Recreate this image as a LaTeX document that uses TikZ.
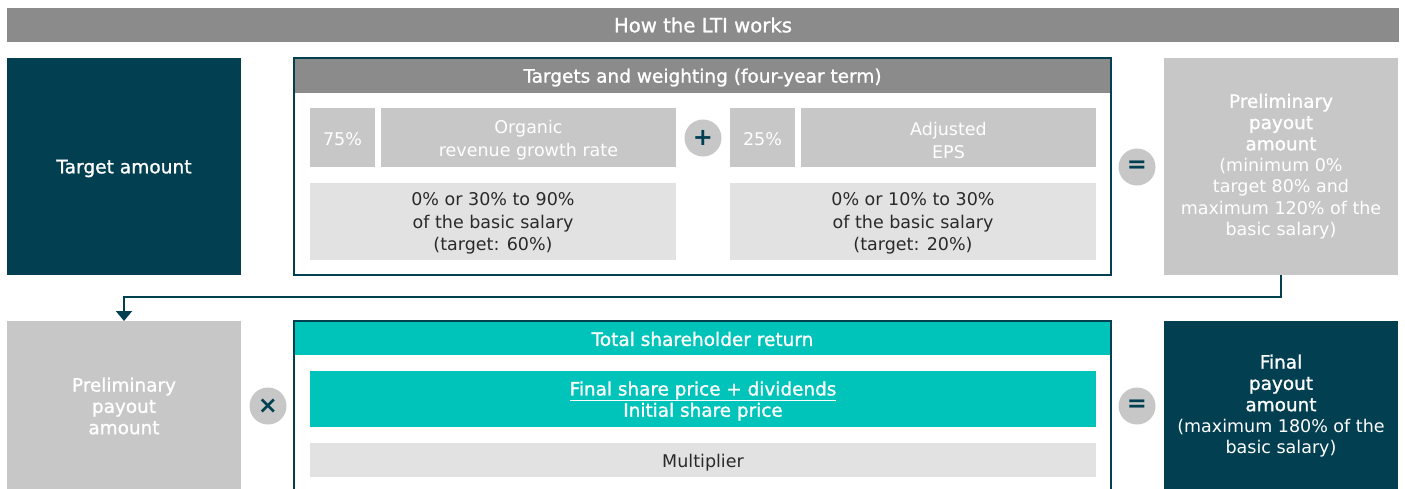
\documentclass[tikz,border=0pt]{standalone}
\usepackage{fontspec}
\setmainfont{DejaVu Sans}
\newfontfamily\medf[FakeBold=1.2]{DejaVu Sans}
\newcommand\medsz{\fontsize{18.4}{21.3}\selectfont\medf}
\newcommand\dn[2]{\raisebox{-#1}[\height][\depth]{#2}}
\usetikzlibrary{arrows.meta}
\definecolor{dark}{HTML}{023F51}
\definecolor{midgray}{HTML}{8A8B8A}
\definecolor{lgray}{HTML}{C6C7C6}
\definecolor{llgray}{HTML}{E1E2E1}
\definecolor{teal}{HTML}{00C4BA}
\definecolor{txt}{HTML}{2A2A2A}
\tikzset{
  base/.style={inner sep=0pt, outer sep=0pt, anchor=north west, align=center,
    font=\fontsize{17.5}{21.3}\selectfont},
  medtxt/.style={font=\medsz},
  hdrtxt/.style={font=\fontsize{18.5}{21.3}\selectfont\medf},
  darkbox/.style={base, fill=dark, text=white},
  graybox/.style={base, fill=lgray, text=white},
  palebox/.style={base, fill=llgray, text=txt},
  framebox/.style={base, fill=white},
  frameline/.style={draw=dark, line width=1.2pt},
  opcirc/.style={circle, fill=lgray, text=dark, minimum size=37pt, inner sep=0pt,
    font=\fontsize{24}{24}\selectfont\bfseries},
  conn/.style={draw=dark, line width=2pt, -{Triangle[width=16pt,length=10pt]}}
}
\begin{document}
\begin{tikzpicture}[x=1pt,y=-1pt]
\useasboundingbox (0,0) rectangle (1405,488);
\clip (0,0) rectangle (1405,488);

% title bar
\node[base, fill=midgray, text=white, font=\fontsize{19.7}{21.3}\selectfont\medf, minimum width=1392pt, minimum height=34pt] (title) at (7,8) {How the LTI works};

% top row
\node[darkbox, font=\fontsize{18.6}{21.3}\selectfont\medf, minimum width=234pt, minimum height=217pt] (ta) at (7,58) {\dn{2pt}{Target amount}};

\node[framebox, minimum width=817pt, minimum height=217pt] (tw) at (294,58) {};
\node[base, fill=midgray, text=white, hdrtxt, minimum width=817pt, minimum height=35pt] (twh) at (294,58) {\dn{2pt}{Targets and weighting (four-year term)}};
\draw[frameline] (tw.north west) rectangle (tw.south east);

\node[graybox, minimum width=65pt, minimum height=59pt] (p75) at (310,108) {\dn{2pt}{75\%}};
\node[graybox, minimum width=295pt, minimum height=59pt] (org) at (381,108) {\dn{2pt}{Organic}\\\dn{4pt}{revenue growth rate}};
\node[palebox, minimum width=366pt, minimum height=77pt] (low1) at (310,183) {\dn{1pt}{0\% or 30\% to 90\%}\\\dn{2pt}{of the basic salary}\\\dn{3pt}{(target: 60\%)}};

\node[opcirc] (plus) at (703,138) {+};

\node[graybox, minimum width=65pt, minimum height=59pt] (p25) at (730,108) {\dn{2pt}{25\%}};
\node[graybox, minimum width=295pt, minimum height=59pt] (eps) at (801,108) {\dn{2pt}{Adjusted}\\\dn{4pt}{EPS}};
\node[palebox, minimum width=366pt, minimum height=77pt] (low2) at (730,183) {\dn{1pt}{0\% or 10\% to 30\%}\\\dn{2pt}{of the basic salary}\\\dn{3pt}{(target: 20\%)}};

\node[opcirc] (eq1) at (1137,167) {=};

\node[graybox, minimum width=234pt, minimum height=217pt] (pre) at (1164,58)
  {\medsz Preliminary\\\medsz payout\\\medsz amount\\(minimum 0\%\\target 80\% and\\maximum 120\% of the\\basic salary)};

% bottom row
\node[graybox, medtxt, minimum width=234pt, minimum height=170pt] (pl) at (7,321) {Preliminary\\payout\\amount};

\draw[conn] (pre.south) -- ++(0,22) -| (pl.north);

\node[opcirc] (times) at (268,406) {\texttimes};

\node[framebox, minimum width=817pt, minimum height=175pt] (tsr) at (294,321) {};
\node[base, fill=teal, text=white, hdrtxt, minimum width=817pt, minimum height=34pt] (tsrh) at (294,321) {\dn{1pt}{Total shareholder return}};
\draw[frameline] (tsr.north west) rectangle (tsr.south east);

\node[base, fill=teal, text=white, medtxt, minimum width=786pt, minimum height=56pt] (frm) at (310,371)
  {\dn{2pt}{\underline{Final share price + dividends}}\\\dn{2pt}{Initial share price}};
\node[palebox, minimum width=786pt, minimum height=34pt] (mult) at (310,443) {\dn{3pt}{Multiplier}};

\node[opcirc] (eq2) at (1137,406) {=};

\node[darkbox, minimum width=234pt, minimum height=170pt] (fin) at (1164,321)
  {\medsz Final\\\medsz payout\\\medsz amount\\(maximum 180\% of the\\basic salary)};
\end{tikzpicture}
\end{document}
